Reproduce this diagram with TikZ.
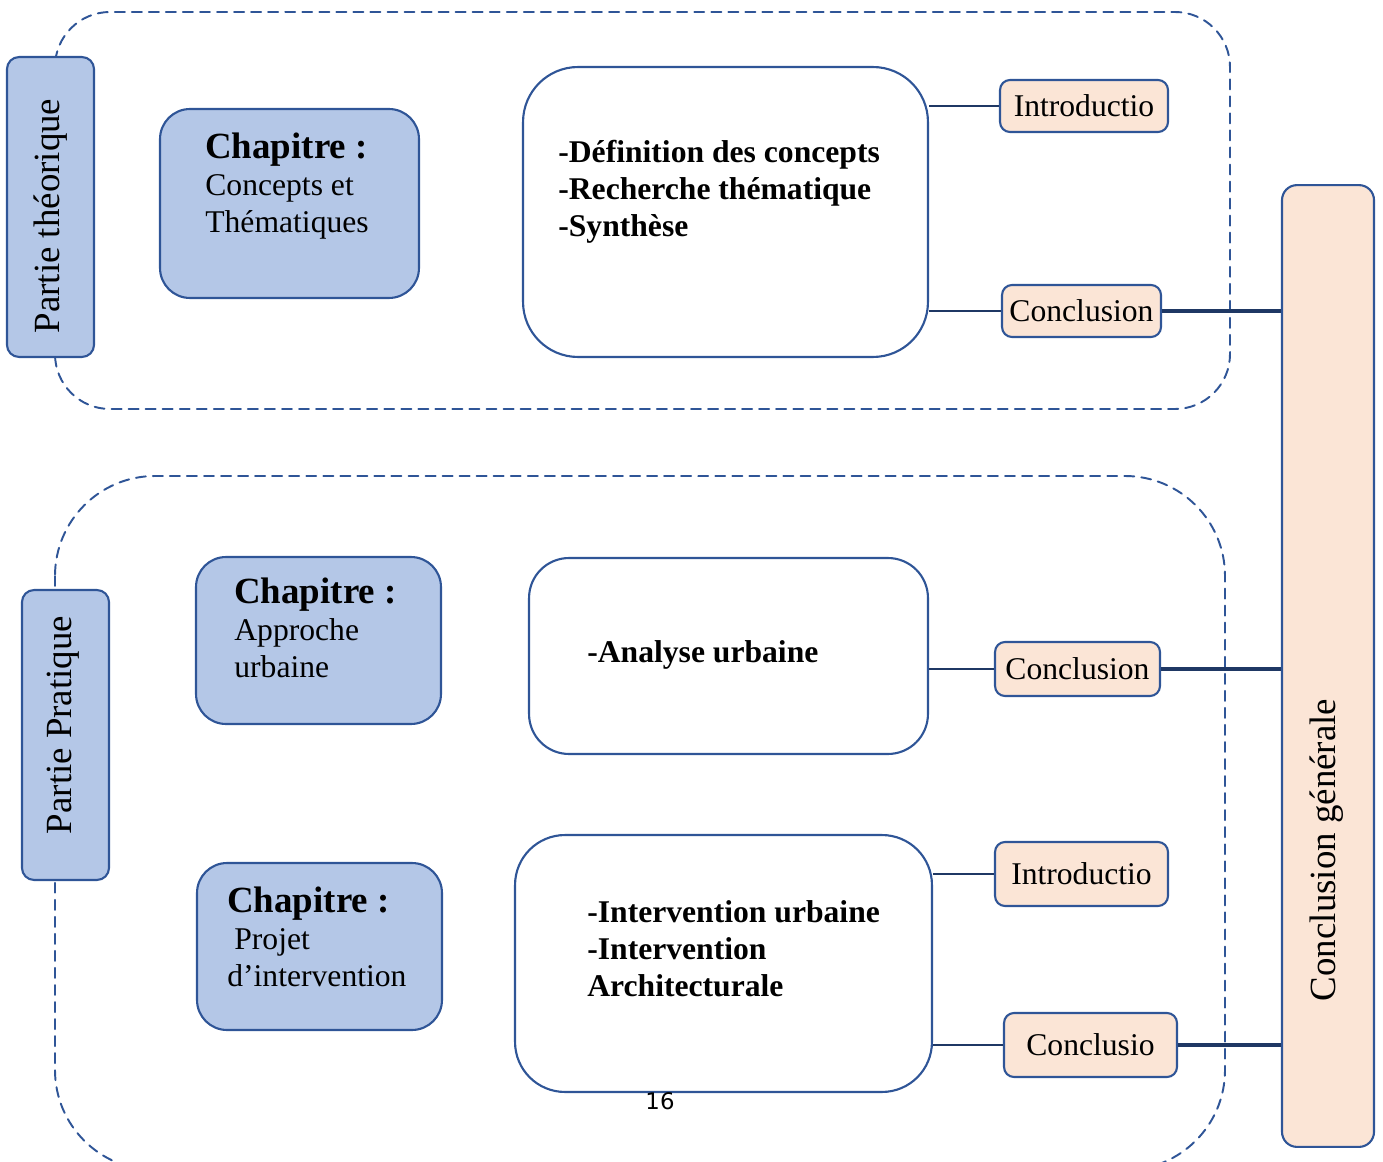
\documentclass[tikz,border=0pt]{standalone}
\usepackage{fontspec}
\setmainfont{Liberation Serif}
\newfontfamily\numfont{DejaVu Sans}
\definecolor{bordblue}{RGB}{47,85,151}
\definecolor{partfill}{RGB}{180,199,231}
\definecolor{peach}{RGB}{251,229,214}
\definecolor{linkblue}{RGB}{31,56,100}
\begin{document}
\begin{tikzpicture}[x=0.02cm, y=-0.02cm, line join=round, line cap=round,
	box/.style={draw=bordblue, line width=1.2pt, inner sep=0pt},
	partbox/.style={box, fill=partfill, rounded corners=0.24cm, minimum width=1.74cm},
	chapbox/.style={box, fill=partfill, rounded corners=0.6cm, minimum width=4.9cm, minimum height=3.34cm},
	contentbox/.style={box, fill=white},
	tagbox/.style={box, fill=peach, rounded corners=0.2cm, font=\fontsize{18}{21}\selectfont},
	txt/.style={inner sep=0pt, anchor=north west, align=left, font=\fontsize{18}{21}\selectfont},
	boldtxt/.style={txt, font=\bfseries\fontsize{18}{21}\selectfont},
	vtxt/.style={inner sep=0pt, rotate=90, font=\fontsize{21}{25}\selectfont},
	link/.style={draw=linkblue, line width=1.4pt, line cap=butt},
	thicklink/.style={link, line width=2.3pt},
	frame/.style={draw=bordblue, line width=1.1pt, dash pattern=on 5.7pt off 4pt}]
	\useasboundingbox (0,0) rectangle (1383,1162);
	\clip (0,0) rectangle (1383,1162);
	% dashed frames of the two parts
	\draw[frame, rounded corners=1.1cm] (55,12) rectangle (1230,409);
	\draw[frame, rounded corners=2cm] (55,476) rectangle (1225,1170);
	% parts
	\node[partbox, minimum height=6cm] (theo) at (50.5,207) {};
	\node[vtxt] (theot) at (50.5,216) {Partie théorique};
	\node[partbox, minimum height=5.8cm] (prat) at (65.5,735) {};
	\node[vtxt] (pratt) at (63,725) {Partie Pratique};
	\node[box, fill=peach, rounded corners=0.3cm, minimum width=1.84cm, minimum height=19.24cm] (cg) at (1328,666) {};
	\node[vtxt] (cgt) at (1327,850) {Conclusion générale};
	% chapters
	\node[chapbox, minimum width=5.18cm, minimum height=3.78cm] (ch1) at (289.5,203.5) {};
	\node[txt] (ch1t) at (205,133) {{\bfseries\fontsize{21}{25}\selectfont Chapitre :}\\Concepts et\\Thématiques};
	\node[chapbox] (ch2) at (318.5,640.5) {};
	\node[txt] (ch2t) at (234,578) {{\bfseries\fontsize{21}{25}\selectfont Chapitre :}\\Approche\\urbaine};
	\node[chapbox] (ch3) at (319.5,946.5) {};
	\node[txt] (ch3t) at (227,887) {{\bfseries\fontsize{21}{25}\selectfont Chapitre :}\\\hspace{4pt}Projet\\d’intervention};
	% contents
	\node[contentbox, rounded corners=1.1cm, minimum width=8.1cm, minimum height=5.8cm] (c1) at (725.5,212) {};
	\node[boldtxt] (c1t) at (558,140) {-Définition des concepts\\-Recherche thématique\\-Synthèse};
	\node[contentbox, rounded corners=0.8cm, minimum width=7.98cm, minimum height=3.92cm] (c2) at (728.5,656) {};
	\node[boldtxt] (c2t) at (587,640) {-Analyse urbaine};
	\node[contentbox, rounded corners=1cm, minimum width=8.34cm, minimum height=5.14cm] (c3) at (723.5,963.5) {};
	\node[boldtxt] (c3t) at (587,900) {-Intervention urbaine\\-Intervention\\Architecturale};
	% introductions and conclusions
	\node[tagbox, minimum width=3.36cm, minimum height=1.04cm] (i1) at (1084,106) {Introductio};
	\node[tagbox, minimum width=3.18cm, minimum height=1.04cm] (k1) at (1081.5,311) {Conclusion};
	\node[tagbox, minimum width=3.3cm, minimum height=1.08cm] (k2) at (1077.5,669) {Conclusion};
	\node[tagbox, minimum width=3.46cm, minimum height=1.28cm] (i3) at (1081.5,874) {Introductio};
	\node[tagbox, minimum width=3.46cm, minimum height=1.28cm] (k3) at (1090.5,1045) {Conclusio};
	\foreach \b/\c in {i1/c1,k1/c1,k2/c2,i3/c3,k3/c3}
	\draw[link] (\b.west) -- (\b.west -| \c.east);
	\foreach \b in {k1,k2,k3}
	\draw[thicklink] (\b.east) -- (\b.east -| cg.west);
	\node[inner sep=0pt, font=\numfont\fontsize{13}{15}\selectfont] (pagenum) at (660,1101) {16};
\end{tikzpicture}
\end{document}
